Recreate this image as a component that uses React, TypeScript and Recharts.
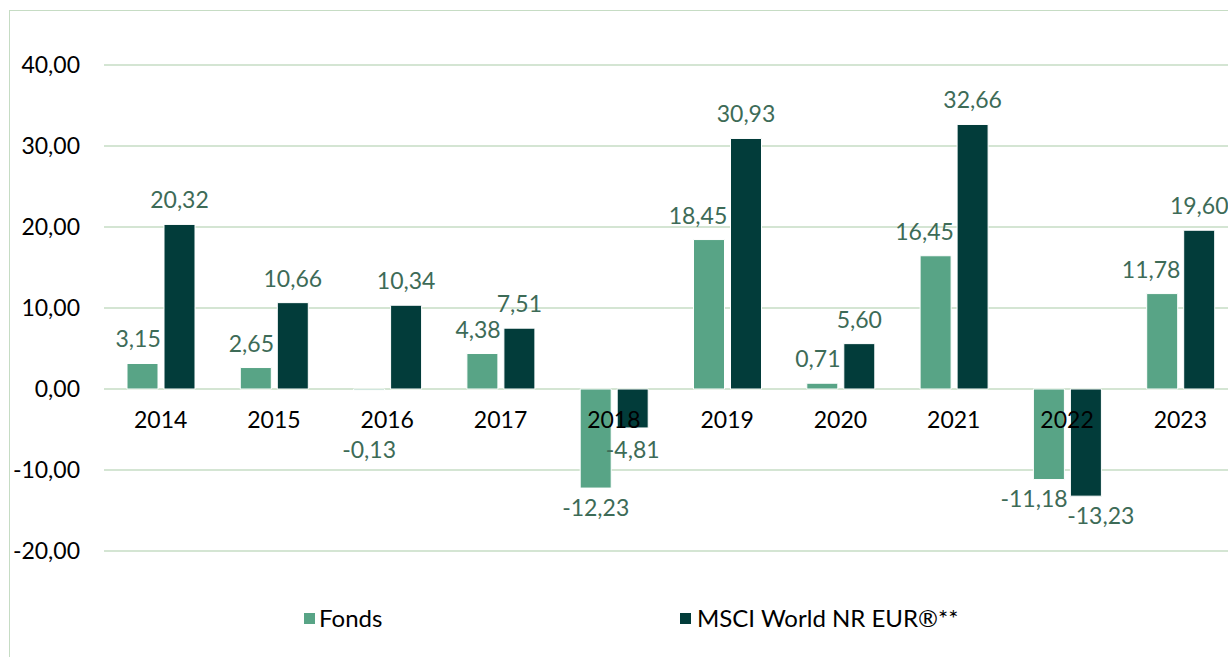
import { ComposedChart, Bar, Line, XAxis, YAxis, CartesianGrid, LabelList } from 'recharts';

const years = ['2014', '2015', '2016', '2017', '2018', '2019', '2020', '2021', '2022', '2023'];
const fonds = [3.15, 2.65, -0.13, 4.38, -12.23, 18.45, 0.71, 16.45, -11.18, 11.78];
const msci = [20.32, 10.66, 10.34, 7.51, -4.81, 30.93, 5.6, 32.66, -13.23, 19.6];
const yTicks = [-20, -10, 0, 10, 20, 30, 40];

const data = years.map((year, i) => ({ year, fonds: fonds[i], msci: msci[i], zero: 0 }));

const FONT = 'Lato, "Open Sans", sans-serif';
const FS = 23;
const GRID = '#c6dcc4';
const FONDS_COLOR = '#58a486';
const MSCI_COLOR = '#023c3a';
const LABEL_COLOR = '#3d6b57';
const BAR_GAP = 6;

const fmt = (v: number) => v.toFixed(2).replace('.', ',');

// rough Lato text width, used to keep labels off the neighbouring bar
const textWidth = (s: string) => {
  let w = 0;
  for (const c of s) w += c === ',' ? 0.25 : c === '-' ? 0.33 : 0.58;
  return w * FS;
};

// value label: above positive bars, below negative ones, nudged sideways like Excel does
const makeLabel = (series: 'fonds' | 'msci') => (props: any) => {
  const vb = props.viewBox ?? props;
  const { x, y, width, height } = vb;
  const index = props.index ?? 0;
  const value = Number(props.value);
  const text = fmt(value);
  const w = textWidth(text);
  const top = Math.min(y, y + height);
  const bottom = Math.max(y, y + height);
  const pxPerUnit = Math.abs(value) > 0.5 ? Math.abs(height) / Math.abs(value) : 8.1;
  const cx = x + width / 2;
  let dx = 0;
  const other = series === 'fonds' ? msci[index] : fonds[index];
  const sameSign = Math.sign(other) === Math.sign(value);
  if (series === 'fonds' && sameSign && Math.abs(other) > Math.abs(value)) {
    const neighbourLeft = x + width + BAR_GAP;
    dx = Math.min(0, neighbourLeft - 3 - (cx + w / 2));
  }
  if (series === 'msci' && sameSign && Math.abs(other - value) * pxPerUnit < FS + 2) {
    const neighbourRight = x - BAR_GAP;
    dx = Math.max(0, neighbourRight + 3 - (cx - w / 2));
  }
  if (value >= 0) {
    return (
      <text x={cx + dx} y={top - 16} textAnchor="middle" fill={LABEL_COLOR} fontSize={FS} fontFamily={FONT}>
        {text}
      </text>
    );
  }
  const labelTop = Math.max(bottom + 11, top + 52);
  return (
    <text x={cx + dx} y={labelTop} dy="0.72em" textAnchor="middle" fill={LABEL_COLOR} fontSize={FS} fontFamily={FONT}>
      {text}
    </text>
  );
};

const FondsLabel = makeLabel('fonds');
const MsciLabel = makeLabel('msci');

function LegendBox() {
  return (
    <div
      style={{
        position: 'absolute',
        left: 304,
        top: 604,
        display: 'flex',
        fontFamily: FONT,
        fontSize: 24,
        color: '#000',
        lineHeight: '28px',
      }}
    >
      <div style={{ display: 'flex', alignItems: 'center', width: 376 }}>
        <span style={{ width: 11, height: 11, background: FONDS_COLOR, marginRight: 4, display: 'inline-block' }} />
        Fonds
      </div>
      <div style={{ display: 'flex', alignItems: 'center' }}>
        <span style={{ width: 11, height: 11, background: MSCI_COLOR, marginRight: 6, display: 'inline-block' }} />
        MSCI World NR EUR®**
      </div>
    </div>
  );
}

export default function App() {
  return (
    <div style={{ position: 'fixed', left: 0, top: 0, width: 1228, height: 657, overflow: 'hidden', background: '#fff' }}>
      <div style={{ position: 'absolute', left: 9, top: 10, width: 1400, height: 800, border: `1px solid ${GRID}` }} />
      <div style={{ position: 'absolute', left: 0, top: 0 }}>
        <ComposedChart
          width={1240}
          height={657}
          data={data}
          margin={{ top: 65, right: 3, bottom: 106, left: 0 }}
          barSize={31}
          barGap={BAR_GAP}
        >
          <CartesianGrid vertical={false} stroke={GRID} strokeWidth={1.5} />
          <XAxis dataKey="year" hide />
          <YAxis
            domain={[-20, 40]}
            ticks={yTicks}
            width={104}
            axisLine={false}
            tickLine={false}
            tickSize={0}
            tickMargin={24}
            tickFormatter={fmt}
            tick={{ fontSize: FS, fill: '#000', fontFamily: FONT }}
          />
          <Bar dataKey="fonds" fill={FONDS_COLOR} stroke="#fff" strokeWidth={1} isAnimationActive={false}>
            <LabelList dataKey="fonds" content={FondsLabel} />
          </Bar>
          <Bar dataKey="msci" fill={MSCI_COLOR} stroke="#fff" strokeWidth={1} isAnimationActive={false}>
            <LabelList dataKey="msci" content={MsciLabel} />
          </Bar>
          <Line
            dataKey="zero"
            stroke="none"
            dot={false}
            activeDot={false}
            legendType="none"
            isAnimationActive={false}
          >
            <LabelList dataKey="year" position="bottom" offset={23} fill="#000" fontSize={FS} fontFamily={FONT} />
          </Line>
        </ComposedChart>
      </div>
      <LegendBox />
    </div>
  );
}
